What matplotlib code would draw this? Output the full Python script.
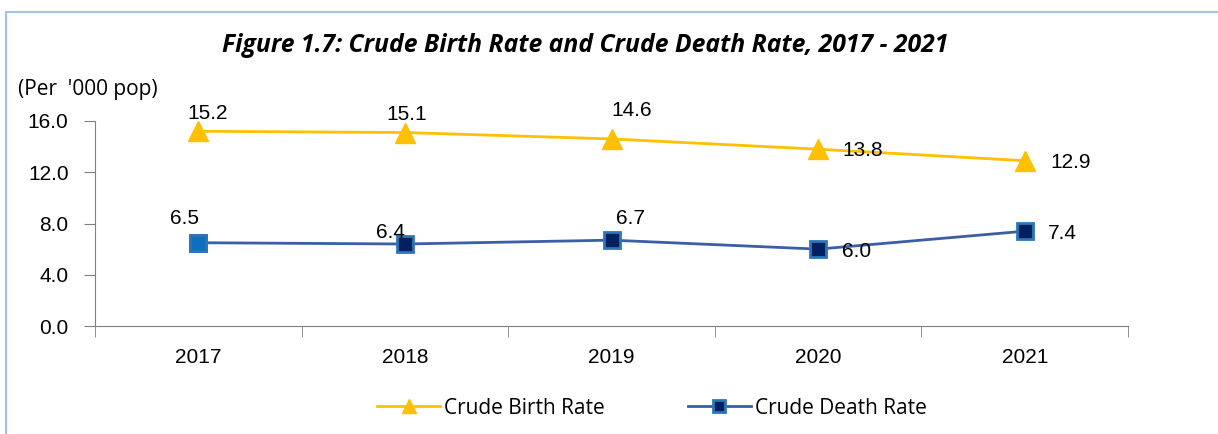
import matplotlib.pyplot as plt
from matplotlib.patches import Rectangle

years = ['2017', '2018', '2019', '2020', '2021']
birth = [15.2, 15.1, 14.6, 13.8, 12.9]
death = [6.5, 6.4, 6.7, 6.0, 7.4]

# label offsets in pixels (dx, dy)
birth_off = [(9, 18), (2, 18), (20, 28), (45, -1), (46, -2)]
death_off = [(-14, 24), (-14, 11), (19, 22), (38, -2), (38, -2)]

plt.rcParams['font.family'] = ['Liberation Sans', 'DejaVu Sans']
calib = ['Open Sans', 'DejaVu Sans']

fig = plt.figure(figsize=(12.18, 4.34), dpi=100)
fig.patches.append(Rectangle((6 / 1218, -0.1), 1.2, (434 - 12) / 434 + 0.1,
                             transform=fig.transFigure, fill=False,
                             edgecolor='#9DC3E6', linewidth=1.5))

ax = fig.add_axes([95 / 1218, 108 / 434, 1033 / 1218, 205 / 434])
x = list(range(len(years)))

ax.plot(x, birth, color='#FFC000', linewidth=2, marker='^', markersize=14,
        markerfacecolor='#FFC000', markeredgecolor='#FFC000', label='Crude Birth Rate')
ax.plot(x, death, color='#3B5EA6', linewidth=2, marker='s', markersize=11,
        markerfacecolor='#002060', markeredgecolor='#2E75B6', markeredgewidth=2,
        label='Crude Death Rate')
ax.plot(x[:1], death[:1], linestyle='none', marker='s', markersize=11,
        markerfacecolor='#0E6EBF', markeredgecolor='#2E75B6', markeredgewidth=2)

for i, v in enumerate(birth):
    ax.annotate(f'{v:.1f}', (i, v), xytext=birth_off[i], textcoords='offset pixels',
                ha='center', va='center', fontsize=15)
for i, v in enumerate(death):
    ax.annotate(f'{v:.1f}', (i, v), xytext=death_off[i], textcoords='offset pixels',
                ha='center', va='center', fontsize=15)

ax.set_xlim(-0.5, 4.5)
ax.set_ylim(0, 16)
ax.set_yticks([0, 4, 8, 12, 16])
ax.set_yticklabels([f'{t:.1f}' for t in [0, 4, 8, 12, 16]])
ax.set_xticks(x)
ax.set_xticklabels(years)
ax.set_xticks([i - 0.5 for i in range(len(years) + 1)], minor=True)
ax.tick_params(axis='x', which='major', length=0, pad=16, labelsize=15)
ax.tick_params(axis='x', which='minor', length=8, color='#808080', direction='out')
ax.tick_params(axis='y', length=8, color='#808080', pad=11, labelsize=15)
for s in ['top', 'right']:
    ax.spines[s].set_visible(False)
for s in ['left', 'bottom']:
    ax.spines[s].set_color('#808080')

fig.text(585 / 1218, 1 - 45 / 434,
         "Figure 1.7: Crude Birth Rate and Crude Death Rate, 2017 - 2021",
         ha='center', va='center', fontsize=17.8, fontweight='bold', style='italic',
         family=calib)
fig.text(18 / 1218, 1 - 90 / 434, "(Per  '000 pop)", ha='left', va='center',
         fontsize=15, family=calib)

fig.legend(loc='center', bbox_to_anchor=(652 / 1218, 1 - 408 / 434), ncol=2,
           frameon=False, prop={'family': calib, 'size': 15}, markerscale=0.75,
           handlelength=3.0, columnspacing=4.0, handletextpad=0.2)

fig.savefig('out.png', dpi=100)
